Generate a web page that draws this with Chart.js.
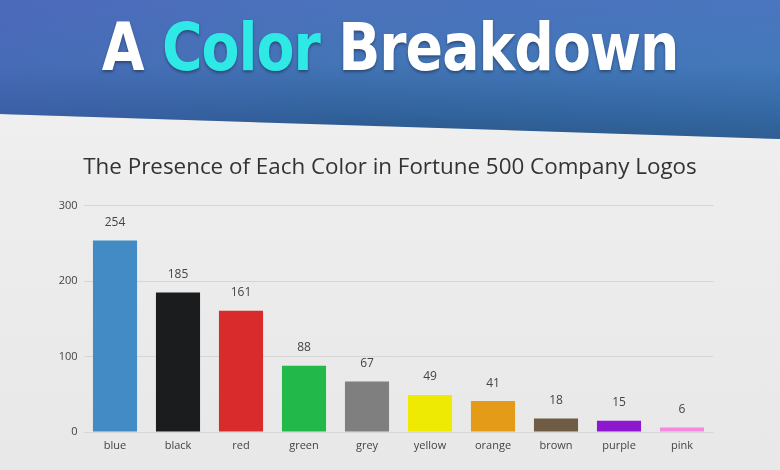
<!DOCTYPE html>
<html>
<head>
<meta charset="utf-8">
<script src="https://cdn.jsdelivr.net/npm/chart.js@4"></script>
<style>
  html, body { margin: 0; padding: 0; }
  body { width: 780px; height: 470px; overflow: hidden; position: relative;
         background: linear-gradient(180deg, #f3f3f3 0%, #ededed 40%, #e8e8e8 100%); }
  #header { position: absolute; left: 0; top: 0; width: 780px; height: 141px;
            background:
              linear-gradient(90deg, rgba(80,90,185,0.35) 0%, rgba(80,95,185,0) 45%, rgba(70,140,210,0.15) 100%),
              linear-gradient(180deg, #4b72bc 0%, #4375b6 45%, #30619a 82%, #2a5585 100%);
            clip-path: polygon(0 0, 100% 0, 100% 139px, 0 114px); }
  #title { position: absolute; left: 0; top: 10px; width: 780px; text-align: center;
           font-family: "DejaVu Sans Condensed", "DejaVu Sans", sans-serif; font-weight: bold;
           font-size: 65px; color: #ffffff; letter-spacing: -1px;
           text-shadow: 0 2px 3px rgba(0,0,0,0.35); }
  #title span.c { color: #2ee9e6; }
  #title .inner { display: inline-block; transform: scaleX(0.945); transform-origin: center; }
  #chartWrap { position: absolute; left: 0; top: 0; width: 780px; height: 470px; }
</style>
</head>
<body>
<div id="header"></div>
<div id="title"><span class="inner">A <span class="c">Color</span> Breakdown</span></div>
<div id="chartWrap"><canvas id="c" width="780" height="470"></canvas></div>
<script>
const categories = ["blue", "black", "red", "green", "grey", "yellow", "orange", "brown", "purple", "pink"];
const counts = [254, 185, 161, 88, 67, 49, 41, 18, 15, 6];
const barColors = ["#438bc4", "#1b1c1e", "#d92b2b", "#22b84a", "#7f7f7f", "#eeea04", "#e49b17", "#6e5c44", "#8e17d0", "#f48ae0"];
const yTicks = [0, 100, 200, 300];
const chartTitle = "The Presence of Each Color in Fortune 500 Company Logos";

const valueLabels = {
  id: 'valueLabels',
  afterDatasetsDraw(chart) {
    const ctx = chart.ctx;
    const meta = chart.getDatasetMeta(0);
    ctx.save();
    ctx.font = '12px "Open Sans", sans-serif';
    ctx.fillStyle = '#444444';
    ctx.textAlign = 'center';
    ctx.textBaseline = 'middle';
    meta.data.forEach((bar, i) => {
      ctx.fillText(String(chart.data.datasets[0].data[i]), bar.x, bar.y - 18);
    });
    ctx.restore();
  }
};

new Chart(document.getElementById('c'), {
  type: 'bar',
  data: {
    labels: categories,
    datasets: [{
      data: counts,
      backgroundColor: barColors,
      borderWidth: 0,
      barPercentage: 0.7,
      categoryPercentage: 1.0
    }]
  },
  options: {
    responsive: false,
    animation: false,
    layout: { padding: { top: 140, left: 0, right: 0, bottom: 0 } },
    plugins: {
      legend: { display: false },
      tooltip: { enabled: false },
      title: {
        display: true,
        text: chartTitle,
        color: '#333333',
        font: { family: '"Open Sans", sans-serif', size: 22.4, weight: 'normal' },
        padding: { top: 14, bottom: 25 }
      }
    },
    scales: {
      x: {
        grid: { display: false, drawTicks: false },
        border: { display: false },
        ticks: { color: '#444444', font: { family: '"Open Sans", sans-serif', size: 11 }, padding: 7 },
        afterFit(scale) { scale.height = 38; }
      },
      y: {
        min: 0, max: 300,
        afterBuildTicks(scale) { scale.ticks = yTicks.map(v => ({ value: v })); },
        grid: { color: '#d6d6d6', drawTicks: false, lineWidth: 1 },
        border: { display: false },
        ticks: { color: '#444444', font: { family: '"Open Sans", sans-serif', size: 11 }, padding: 6 },
        afterFit(scale) { scale.width = 83.5; }
      },
      yRight: {
        position: 'right',
        min: 0, max: 300,
        grid: { display: false, drawTicks: false },
        border: { display: false },
        ticks: { display: false },
        afterFit(scale) { scale.width = 66.5; }
      }
    }
  },
  plugins: [valueLabels]
});
</script>
</body>
</html>
